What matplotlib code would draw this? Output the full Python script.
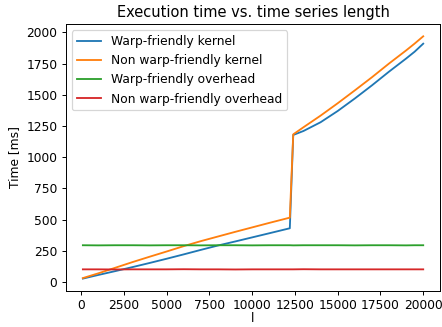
import matplotlib
matplotlib.use('Agg')
import matplotlib.pyplot as plt

# Time series lengths
lengths = [100, 1000, 2000, 3000, 4000, 5000, 6000, 7000, 8000, 9000, 10000, 11000,
           12200, 12400, 13000, 14000, 15000, 16000, 17000, 18000, 19000, 19500, 20000]

# Kernel times [ms]
warp_kernel = [28, 57, 88, 120, 153, 187, 222, 258, 293, 325, 358, 391,
               431, 1178, 1210, 1280, 1370, 1470, 1575, 1685, 1790, 1845, 1909]
non_warp_kernel = [32, 70, 115, 160, 203, 245, 288, 328, 365, 402, 438, 474,
                   516, 1183, 1240, 1333, 1432, 1535, 1640, 1750, 1855, 1910, 1968]

# Overhead times [ms]
warp_overhead = [295, 294, 295, 295, 294, 295, 295, 294, 295, 295, 294, 295,
                 295, 294, 295, 295, 295, 294, 295, 295, 294, 295, 295]
non_warp_overhead = [102, 102, 101, 102, 102, 102, 103, 102, 102, 101, 102, 102,
                     102, 102, 103, 102, 102, 102, 102, 102, 102, 102, 102]

dpi = 88
fig = plt.figure(figsize=(442 / dpi, 327 / dpi), dpi=dpi)
ax = fig.add_axes([0.149, 0.111, 0.847, 0.815])

ax.plot(lengths, warp_kernel, label='Warp-friendly kernel')
ax.plot(lengths, non_warp_kernel, label='Non warp-friendly kernel')
ax.plot(lengths, warp_overhead, label='Warp-friendly overhead')
ax.plot(lengths, non_warp_overhead, label='Non warp-friendly overhead')

ax.set_title('Execution time vs. time series length')
ax.set_xlabel('l', labelpad=0)
ax.set_ylabel('Time [ms]')
ax.legend(loc='upper left')

fig.savefig('out.png', dpi=dpi)
